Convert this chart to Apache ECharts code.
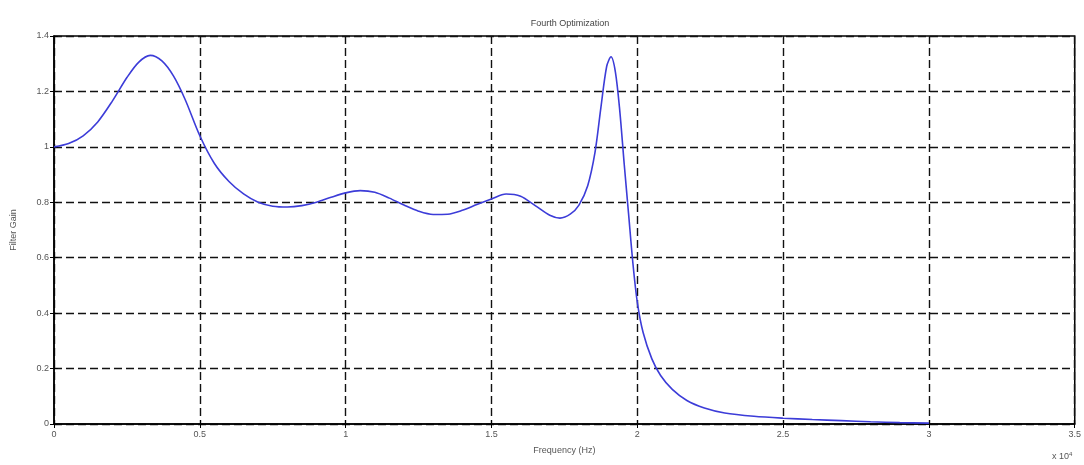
<!DOCTYPE html>
<html>
<head>
<meta charset="utf-8">
<title>Fourth Optimization</title>
<script src="https://cdn.jsdelivr.net/npm/echarts@6/dist/echarts.min.js"></script>
<style>
  html, body { margin: 0; padding: 0; background: #fff; }
  #chart { width: 1084px; height: 465px; }
</style>
</head>
<body>
<div id="chart"></div>
<script>
// frequency in units of 10^4 Hz
var freq = [0, 0.05, 0.1, 0.15, 0.2, 0.25, 0.29, 0.33, 0.37, 0.41, 0.45, 0.5, 0.55, 0.6,
  0.65, 0.7, 0.75, 0.8, 0.85, 0.9, 0.95, 1.0, 1.05, 1.1, 1.15, 1.2, 1.25, 1.3, 1.35, 1.4, 1.45,
  1.5, 1.55, 1.6, 1.65, 1.7, 1.735, 1.77, 1.8, 1.83, 1.855, 1.875, 1.895, 1.91, 1.925, 1.94,
  1.955, 1.97, 1.985, 2.0, 2.02, 2.05, 2.08, 2.12, 2.17, 2.23, 2.3, 2.4, 2.5, 2.6, 2.7,
  2.8, 2.9, 3.0];
var gain = [1.0, 1.012, 1.04, 1.09, 1.165, 1.25, 1.305, 1.33, 1.31, 1.255, 1.17, 1.04, 0.94, 0.875,
  0.83, 0.80, 0.786, 0.783, 0.788, 0.80, 0.818, 0.834, 0.842, 0.836, 0.815, 0.79, 0.768, 0.756, 0.757, 0.771, 0.792,
  0.812, 0.83, 0.822, 0.788, 0.753, 0.743, 0.757, 0.79, 0.86, 0.98, 1.14, 1.29, 1.325, 1.27, 1.13,
  0.94, 0.76, 0.58, 0.44, 0.33, 0.235, 0.175, 0.125, 0.085, 0.058, 0.04, 0.028, 0.021, 0.016, 0.012,
  0.008, 0.005, 0.003];
var xTicks = [0, 0.5, 1, 1.5, 2, 2.5, 3, 3.5];

var chart = echarts.init(document.getElementById('chart'));

var labelFont = { fontFamily: 'Liberation Sans', fontSize: 9, color: '#555' };
var gridLine = { show: true, lineStyle: { color: '#111', type: [8, 4], width: 1.4 } };
var inTick = { show: true, inside: true, length: 4, lineStyle: { color: '#000' } };

chart.setOption({
  animation: false,
  title: {
    text: 'Fourth Optimization',
    left: 565, top: 14, textAlign: 'center',
    textStyle: { fontFamily: 'Liberation Sans', fontSize: 9, fontWeight: 'normal', color: '#444' }
  },
  grid: { left: 54, right: 8, top: 36, bottom: 41, show: true, borderColor: '#000', borderWidth: 1.5 },
  xAxis: [{
    type: 'value', min: 0, max: 3.5, interval: 0.5,
    name: 'Frequency (Hz)', nameLocation: 'middle', nameGap: 22,
    nameTextStyle: labelFont,
    axisLine: { show: true, lineStyle: { color: '#000', width: 1.5 } },
    axisTick: inTick,
    axisLabel: Object.assign({ margin: 6, formatter: function (v) { return xTicks.indexOf(v) >= 0 ? String(v) : ''; } }, labelFont),
    splitLine: gridLine
  }, {
    type: 'value', min: 0, max: 3.5, interval: 0.5, position: 'top',
    axisLine: { show: false }, axisTick: inTick, axisLabel: { show: false }, splitLine: { show: false }
  }],
  yAxis: [{
    type: 'value', min: 0, max: 1.4, interval: 0.2,
    name: 'Filter Gain', nameLocation: 'middle', nameGap: 36,
    nameTextStyle: labelFont,
    axisLine: { show: true, lineStyle: { color: '#000', width: 1.5 } },
    axisTick: inTick,
    axisLabel: Object.assign({ margin: 5, formatter: function (v) { return String(Math.round(v * 10) / 10); } }, labelFont),
    splitLine: gridLine
  }, {
    type: 'value', min: 0, max: 1.4, interval: 0.2, position: 'right',
    axisLine: { show: false }, axisTick: inTick, axisLabel: { show: false }, splitLine: { show: false }
  }],
  graphic: [{
    type: 'text', left: 1052, top: 451,
    style: {
      text: '{a|x 10}{b|4}',
      rich: {
        a: { fontFamily: 'Liberation Sans', fontSize: 9, fill: '#555' },
        b: { fontFamily: 'Liberation Sans', fontSize: 6, fill: '#555', verticalAlign: 'top', padding: [0, 0, 6, 0] }
      }
    }
  }],
  series: [{
    type: 'line',
    data: freq.map(function (f, i) { return [f, gain[i]]; }),
    smooth: 0.3,
    showSymbol: false,
    lineStyle: { color: '#3c3cd8', width: 1.6 }
  }]
});
</script>
</body>
</html>
